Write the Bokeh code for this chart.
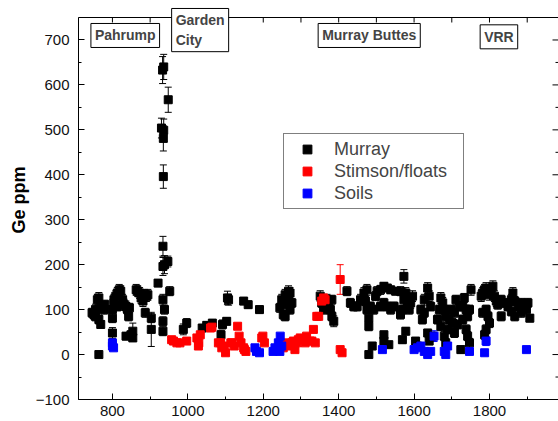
from bokeh.plotting import figure
from bokeh.models import (ColumnDataSource, Whisker, TeeHead, Label,
                          SingleIntervalTicker, Range1d)
from bokeh.embed import file_html
from bokeh.resources import INLINE

# ---------------- data (sol, Ge ppm, error) ----------------
murray_sol = [746, 751, 755, 760, 764, 769, 773, 778, 780, 769, 764, 755, 764,
              800, 800, 800, 804, 809, 813, 818, 822, 827, 831, 836, 840, 813, 804,
              836, 843, 845, 849, 854, 854, 863, 867, 872, 876, 881, 885, 890, 894,
              887, 903, 903, 921,
              933, 936, 948, 930, 936, 935, 935, 934, 934, 938, 947, 934, 938, 934, 934, 952,
              988, 997, 1038, 1050, 1065, 1088, 1092, 1103, 1105, 1108, 1148, 1160, 1190,
              1244, 1249, 1253, 1258, 1262, 1267, 1271, 1276, 1258, 1267, 1271,
              1351, 1355, 1360, 1369, 1378, 1382, 1387, 1373, 1382,
              1422, 1431, 1440, 1449, 1458, 1467, 1475, 1471, 1475, 1480, 1480, 1484,
              1493, 1498, 1502, 1511, 1520, 1529, 1538, 1551, 1564, 1573, 1578, 1573,
              1582, 1587, 1591, 1596, 1569, 1564, 1578, 1569, 1520, 1529, 1538, 1547,
              1511, 1489, 1480, 1520, 1520, 1533,
              1604, 1609, 1618, 1627, 1636, 1640, 1644, 1636, 1649, 1640, 1627, 1622,
              1671, 1676, 1680, 1684, 1667, 1662, 1671, 1680, 1684, 1689, 1693, 1698,
              1702, 1707, 1711, 1720, 1729, 1733, 1738, 1742, 1747, 1729, 1738, 1742,
              1747, 1724, 1716, 1707, 1751,
              1778, 1782, 1787, 1791, 1796, 1800, 1804, 1809, 1813, 1818, 1822, 1782,
              1791, 1796, 1800, 1791, 1787,
              1831, 1840, 1849, 1858, 1862, 1867, 1876, 1884, 1893, 1898, 1902, 1907,
              1858, 1884, 1867, 1831]
murray_ge = [93, 89, 100, 122, 126, 107, 104, 100, 111, 67, 78, 85, 0,
             48, 81, 100, 115, 130, 137, 144, 141, 122, 111, 107, 100, 107, 122,
             41, 85, 104, 44, 37, 52, 144, 141, 137, 126, 119, 133, 130, 133,
             93, 81, 56, 159,
             633, 640, 567, 504, 499, 481, 396, 241, 196, 200, 207, 122, 100, 74, 52, 141,
             56, 70, 59, 65, 70, 44, 67, 74, 126, 122, 119, 111, 100,
             104, 122, 89, 133, 111, 122, 137, 115, 85, 141, 100,
             130, 115, 100, 122, 100, 85, 74, 107, 122,
             141, 115, 107, 107, 122, 137, 144, 119, 100, 81, 63, 107,
             100, 130, 141, 144, 152, 148, 144, 141, 141, 174, 137, 122,
             107, 100, 115, 130, 100, 89, 52, 33, 115, 107, 100, 107,
             107, 19, 0, 44, 30, 22,
             30, 19, 100, 122, 148, 130, 107, 48, 41, 30, 93, 78,
             126, 115, 100, 85, 100, 78, 63, 41, 26, 56, 78, 100,
             70, 48, 122, 107, 107, 126, 100, 85, 100, 78, 56, 41,
             26, 11, 67, 93, 144,
             130, 137, 144, 148, 141, 133, 144, 152, 130, 119, 111, 93,
             100, 85, 70, 56, 44,
             122, 115, 107, 122, 137, 119, 107, 115, 107, 100, 115, 81,
             96, 93, 85, 85]
murray_err = [10, 10, 12, 12, 12, 10, 10, 10, 10, 8, 10, 10, 3,
              12, 10, 10, 12, 12, 12, 12, 12, 12, 12, 12, 10, 10, 12,
              8, 10, 10, 8, 8, 18, 12, 12, 12, 12, 12, 12, 12, 12,
              10, 10, 38, 8,
              30, 28, 28, 22, 25, 28, 26, 22, 20, 20, 12, 12, 10, 10, 10, 10,
              12, 10, 8, 8, 8, 10, 10, 8, 15, 12, 8, 8, 8,
              10, 12, 10, 12, 12, 12, 12, 10, 10, 12, 10,
              12, 10, 10, 12, 10, 10, 12, 10, 10,
              10, 10, 10, 10, 12, 12, 12, 10, 10, 10, 10, 10,
              10, 10, 10, 10, 8, 8, 8, 8, 10, 15, 12, 12,
              10, 10, 12, 12, 10, 10, 8, 8, 10, 10, 10, 10,
              10, 8, 5, 8, 8, 6,
              8, 6, 10, 12, 12, 12, 10, 8, 8, 8, 10, 10,
              12, 12, 10, 10, 10, 10, 10, 10, 10, 10, 10, 10,
              10, 10, 10, 10, 10, 10, 10, 10, 10, 10, 10, 10,
              10, 8, 10, 10, 12,
              12, 12, 12, 12, 12, 12, 12, 12, 12, 12, 10, 10,
              10, 10, 10, 10, 10,
              10, 10, 10, 12, 12, 10, 10, 10, 10, 10, 10, 8,
              10, 10, 10, 10]

stimson_sol = [957, 962, 971, 979, 997, 1024, 1028, 1033, 1029, 1060, 1064, 1081,
               1087, 1090, 1096, 1100, 1114, 1117, 1123, 1132, 1136, 1141, 1148, 1150,
               1154, 1196, 1199, 1203, 1253, 1262, 1271, 1276, 1280, 1284, 1289, 1293,
               1298, 1307, 1311, 1315, 1324, 1329, 1333, 1338, 1342, 1347, 1355, 1360,
               1364, 1404, 1404, 1409]
stimson_ge = [33, 30, 26, 26, 30, 37, 19, 44, 26, 59, 61, 26,
              26, 15, 19, 4, 26, 26, 19, 63, 41, 26, 15, 11,
              7, 37, 41, 26, 15, 26, 19, 26, 30, 11, 26, 33,
              37, 33, 26, 41, 30, 30, 56, 26, 85, 85, 119, 126,
              122, 167, 11, 4]
stimson_err = [4, 4, 4, 4, 4, 4, 4, 4, 4, 5, 5, 4,
               4, 4, 4, 3, 4, 4, 4, 5, 4, 4, 4, 4,
               3, 4, 4, 4, 4, 4, 4, 4, 4, 4, 4, 4,
               4, 4, 4, 4, 4, 4, 5, 4, 6, 6, 8, 8,
               8, 33, 4, 3]

soils_sol = [800, 800, 803, 1178, 1182, 1190, 1226, 1231, 1235, 1240, 1245, 1249,
             1244, 1516, 1600, 1609, 1618, 1627, 1636, 1644, 1653, 1680, 1684, 1689,
             1747, 1787, 1791, 1898]
soils_ge = [19, 26, 15, 15, 7, 4, 7, 15, 11, 26, 41, 19,
            7, 11, 11, 15, 19, 7, 0, 7, 41, 7, 0, 19,
            7, 4, 30, 11]
soils_err = [4, 4, 4, 4, 4, 3, 4, 4, 4, 4, 5, 4,
             4, 4, 4, 4, 4, 4, 3, 4, 12, 4, 3, 4,
             4, 3, 10, 4]

region_names = ["Pahrump", "Garden\nCity", "Murray Buttes", "VRR"]
region_sol = [834, 957, 1481, 1825]
region_ge = [710, 722, 710, 707]
region_align = ["center", "left", "center", "center"]

top_tick_sol = [800, 900, 1000, 1100, 1200, 1300, 1400, 1500, 1600, 1700, 1800, 1900]
right_major_ge = [0, 100, 200, 300, 400, 500, 600, 700]
right_minor_ge = [-50, 50, 150, 250, 350, 450, 550, 650]

FONT = "Liberation Sans"
XMIN, XMAX = 710, 1983
YMIN, YMAX = -100, 750
FRAME_W = 480
FRAME_H = 399            # frame height in px (frame reaches the page top)
AXIS_PX = 382            # px spanned by YMIN..YMAX
Y_PER_PX = (YMAX - YMIN) / AXIS_PX
X_PER_PX = (XMAX - XMIN) / FRAME_W
Y_TOP = YMAX + (FRAME_H - AXIS_PX) * Y_PER_PX


def src(xs, ys, es):
    return ColumnDataSource(dict(x=xs, y=ys,
                                 lo=[y - e for y, e in zip(ys, es)],
                                 hi=[y + e for y, e in zip(ys, es)]))


p = figure(width=558, height=421, x_range=Range1d(XMIN, XMAX), y_range=Range1d(YMIN, Y_TOP),
           output_backend="svg", toolbar_location=None,
           min_border_left=78, min_border_right=0, min_border_top=0, min_border_bottom=22)
p.xgrid.visible = False
p.ygrid.visible = False
p.outline_line_color = None
p.background_fill_color = "white"

xt = SingleIntervalTicker(interval=200, num_minor_ticks=2)
yt = SingleIntervalTicker(interval=100, num_minor_ticks=2)

for ax, t in ((p.xaxis[0], xt), (p.yaxis[0], yt)):
    ax.ticker = t
    ax.major_tick_in = 6
    ax.major_tick_out = 0
    ax.minor_tick_in = 3
    ax.minor_tick_out = 0
    ax.axis_line_color = "black"
    ax.major_tick_line_color = "black"
    ax.minor_tick_line_color = "black"
    ax.major_label_text_font = FONT
    ax.major_label_text_font_size = "15px"
    ax.major_label_text_color = "#111111"

p.yaxis.bounds = (YMIN, YMAX)
p.xaxis.major_label_standoff = 6
p.yaxis.major_label_standoff = 9
p.yaxis.axis_label = "Ge ppm"
p.yaxis.axis_label_text_font = FONT
p.yaxis.axis_label_text_font_size = "18px"
p.yaxis.axis_label_text_font_style = "bold"
p.yaxis.axis_label_text_color = "black"
p.yaxis.axis_label_standoff = 4

# top frame line with inward ticks
p.hspan(y=[YMAX], line_color="black", line_width=1)
p.segment(x0=top_tick_sol, y0=[YMAX] * len(top_tick_sol),
          x1=top_tick_sol, y1=[YMAX - 5 * Y_PER_PX] * len(top_tick_sol),
          line_color="black", line_width=1)
# right side inward ticks (frame edge lies just outside the page)
p.segment(x0=[XMAX] * len(right_major_ge), y0=right_major_ge,
          x1=[XMAX - 6 * X_PER_PX] * len(right_major_ge), y1=right_major_ge,
          line_color="black", line_width=1)
p.segment(x0=[XMAX] * len(right_minor_ge), y0=right_minor_ge,
          x1=[XMAX - 3 * X_PER_PX] * len(right_minor_ge), y1=right_minor_ge,
          line_color="black", line_width=1)

series = [("Murray", murray_sol, murray_ge, murray_err, "black"),
          ("Stimson/floats", stimson_sol, stimson_ge, stimson_err, "#ff0000"),
          ("Soils", soils_sol, soils_ge, soils_err, "#0000ff")]

for name, xs, ys, es, col in series:
    s = src(xs, ys, es)
    w = Whisker(source=s, base="x", lower="lo", upper="hi", line_color=col,
                line_width=1,
                upper_head=TeeHead(size=7, line_color=col, line_width=1),
                lower_head=TeeHead(size=7, line_color=col, line_width=1))
    p.add_layout(w)
    p.scatter("x", "y", source=s, marker="square", size=8, color=col,
              legend_label=name)

lg = p.legend[0]
lg.location = (205, 190)
lg.label_text_font = FONT
lg.label_text_font_size = "18px"
lg.label_height = 22
lg.glyph_height = 22
lg.glyph_width = 38
lg.label_standoff = 8
lg.label_width = 125
lg.padding = 4
lg.spacing = 0
lg.margin = 0
lg.border_line_color = "black"
lg.border_line_width = 1
lg.background_fill_color = "white"
lg.background_fill_alpha = 1

for name, xs, ys, al in zip(region_names, region_sol, region_ge, region_align):
    lab = Label(x=xs, y=ys, text=name, text_font=FONT, text_font_size="14px",
                text_font_style="bold", text_align=al, text_baseline="middle",
                background_fill_color="white", border_line_color="black",
                border_line_width=1, padding=4, text_line_height=1.2)
    p.add_layout(lab)

open("out.html", "w").write(file_html(p, INLINE))
